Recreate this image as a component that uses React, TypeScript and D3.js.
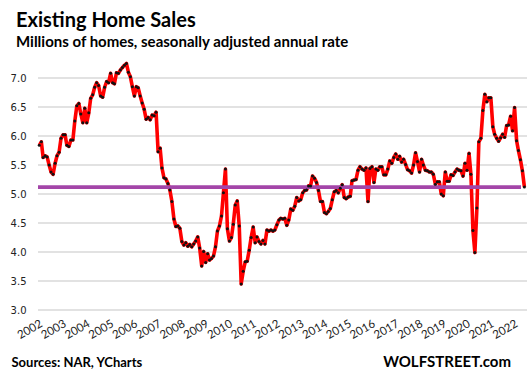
import React from "react";
import * as d3 from "d3";

// Monthly existing home sales, SAAR, millions (Jan 2002 – Jun 2022)
const sales2002 = [5.84, 5.90, 5.63, 5.66, 5.64, 5.50, 5.38, 5.34, 5.53, 5.66, 5.72, 5.96];
const sales2003 = [6.02, 6.02, 5.84, 5.82, 5.93, 5.93, 6.26, 6.52, 6.56, 6.38, 6.23, 6.48];
const sales2004 = [6.23, 6.40, 6.65, 6.71, 6.84, 6.92, 6.87, 6.69, 6.67, 6.84, 6.94, 6.92];
const sales2005 = [7.08, 6.92, 6.90, 7.09, 7.08, 7.14, 7.18, 7.22, 7.25, 7.10, 7.02, 6.85];
const sales2006 = [6.69, 6.85, 6.83, 6.69, 6.57, 6.46, 6.29, 6.32, 6.28, 6.36, 6.35, 6.41];
const sales2007 = [5.73, 5.79, 5.45, 5.28, 5.26, 5.18, 5.07, 4.87, 4.57, 4.44, 4.45, 4.41];
const sales2008 = [4.18, 4.12, 4.16, 4.10, 4.13, 4.09, 4.14, 4.19, 4.26, 4.07, 3.76, 4.01];
const sales2009 = [3.82, 3.97, 3.86, 3.89, 3.93, 4.09, 4.36, 4.45, 4.62, 5.02, 5.43, 4.40];
const sales2010 = [4.19, 4.25, 4.48, 4.81, 4.88, 4.45, 3.45, 3.67, 3.83, 3.84, 4.03, 4.25];
const sales2011 = [4.43, 4.16, 4.26, 4.18, 4.14, 4.20, 4.14, 4.38, 4.36, 4.38, 4.36, 4.38];
const sales2012 = [4.47, 4.55, 4.58, 4.57, 4.58, 4.46, 4.55, 4.74, 4.72, 4.79, 4.94, 4.88];
const sales2013 = [4.90, 5.02, 5.06, 5.07, 5.14, 5.14, 5.31, 5.27, 5.20, 5.06, 4.87, 4.87];
const sales2014 = [4.68, 4.66, 4.70, 4.75, 4.90, 5.04, 5.06, 5.02, 5.10, 5.16, 4.94, 4.92];
const sales2015 = [4.95, 4.96, 5.23, 5.24, 5.25, 5.41, 5.47, 5.43, 5.41, 5.45, 4.87, 5.44];
const sales2016 = [5.47, 5.20, 5.43, 5.41, 5.47, 5.47, 5.33, 5.33, 5.43, 5.57, 5.53, 5.63];
const sales2017 = [5.69, 5.60, 5.65, 5.55, 5.60, 5.51, 5.42, 5.40, 5.36, 5.50, 5.71, 5.56];
const sales2018 = [5.38, 5.60, 5.50, 5.41, 5.40, 5.38, 5.38, 5.34, 5.17, 5.21, 5.21, 5.00];
const sales2019 = [4.97, 5.38, 5.22, 5.22, 5.33, 5.32, 5.38, 5.43, 5.41, 5.40, 5.31, 5.53];
const sales2020 = [5.41, 5.70, 5.34, 4.37, 3.99, 4.76, 5.90, 5.96, 6.44, 6.72, 6.59, 6.66];
const sales2021 = [6.66, 6.16, 6.03, 5.96, 5.91, 5.97, 6.03, 5.98, 6.18, 6.19, 6.34, 6.09];
const sales2022 = [6.49, 5.92, 5.75, 5.59, 5.40, 5.12];

const yearlySales = [
  sales2002, sales2003, sales2004, sales2005, sales2006, sales2007, sales2008,
  sales2009, sales2010, sales2011, sales2012, sales2013, sales2014, sales2015,
  sales2016, sales2017, sales2018, sales2019, sales2020, sales2021, sales2022,
];
const firstYear = 2002;
const yTicks = [3.0, 3.5, 4.0, 4.5, 5.0, 5.5, 6.0, 6.5, 7.0];
const xYears = d3.range(2002, 2023);
const referenceLevel = 5.12;

const title = "Existing Home Sales";
const subtitle = "Millions of homes, seasonally adjusted annual rate";
const sourceText = "Sources: NAR, YCharts";
const brandText = "WOLFSTREET.com";

type Pt = { date: Date; value: number };
const points: Pt[] = [];
yearlySales.forEach((arr, yi) => {
  arr.forEach((v, m) => points.push({ date: new Date(firstYear + yi, m, 1), value: v }));
});

export default function App() {
  const W = 531;
  const H = 380;
  const x = d3
    .scaleTime()
    .domain([points[0].date, points[points.length - 1].date])
    .range([39.3, 524.4]);
  const y = d3.scaleLinear().domain([3, 7]).range([310, 78]);
  const line = d3
    .line<Pt>()
    .x((d) => x(d.date))
    .y((d) => y(d.value));

  return (
    <svg
      width={W}
      height={H}
      style={{ position: "absolute", left: 0, top: 0, background: "#fff" }}
    >
      <rect x={0} y={0} width={W} height={H} fill="#fff" />
      <text x={16} y={26.5} fontFamily="Lato" fontWeight={700} fontSize={20} fill="#000">
        {title}
      </text>
      <text x={16} y={46.5} fontFamily="Lato" fontWeight={700} fontSize={15} fill="#000">
        {subtitle}
      </text>
      {yTicks.map((t) => (
        <g key={t}>
          <line x1={38} x2={527} y1={y(t)} y2={y(t)} stroke="#d9d9d9" strokeWidth={1.3} />
          <text
            x={26.5}
            y={y(t)}
            dy="0.35em"
            textAnchor="end"
            fontFamily="DejaVu Sans"
            fontSize={10}
            fill="#222"
          >
            {t.toFixed(1)}
          </text>
        </g>
      ))}
      {xYears.map((yr) => {
        const px = x(new Date(yr, 0, 1)) + 4;
        const py = 326;
        return (
          <text
            key={yr}
            x={px}
            y={py}
            textAnchor="end"
            transform={`rotate(-30 ${px} ${py})`}
            fontFamily="Lato"
            fontSize={11.5}
            fill="#222"
          >
            {yr}
          </text>
        );
      })}
      <path d={line(points) || ""} fill="none" stroke="#ff0000" strokeWidth={3.6} strokeLinejoin="round" />
      <line
        x1={38}
        x2={521}
        y1={y(referenceLevel)}
        y2={y(referenceLevel)}
        stroke="#a345a8"
        strokeWidth={3.8}
      />
      {points.map((p, i) => (
        <circle key={i} cx={x(p.date)} cy={y(p.value)} r={1.5} fill="#111" />
      ))}
      <text x={11.5} y={367} fontFamily="Lato" fontWeight={700} fontSize={13} fill="#000">
        {sourceText}
      </text>
      <text x={511} y={366.5} textAnchor="end" fontFamily="Lato" fontWeight={700} fontSize={15} fill="#000">
        {brandText}
      </text>
    </svg>
  );
}
